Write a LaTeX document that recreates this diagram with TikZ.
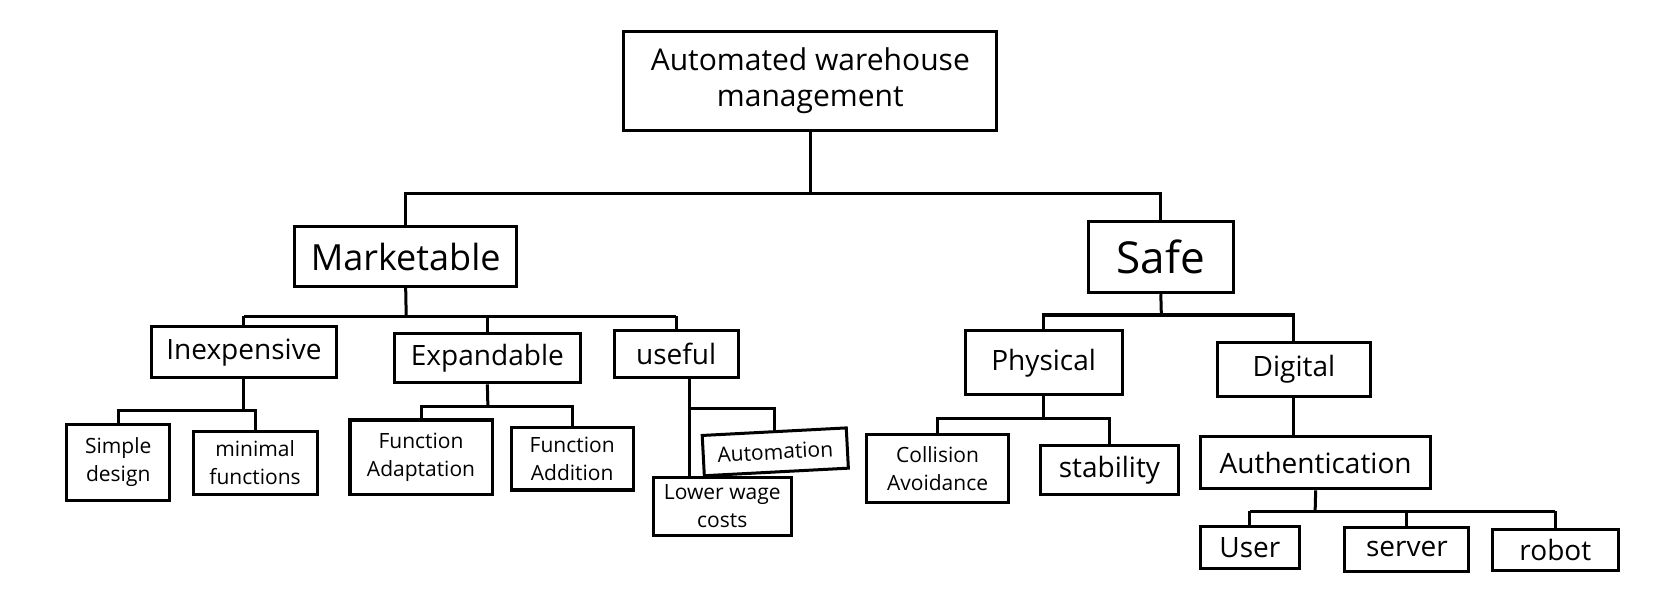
\documentclass[tikz,border=0pt]{standalone}
\usepackage{fontspec}
\setmainfont{Open Sans}

\begin{document}
\begin{tikzpicture}[
    x=0.53pt, y=-0.53pt,
    box/.style={draw, line width=1.5pt, inner sep=0pt, align=center},
    wh/.style 2 args={minimum width=#1*0.53pt, minimum height=#2*0.53pt},
    link/.style={line width=1.5pt},
    big/.style={font=\fontsize{18}{20}\selectfont},
    mid/.style={font=\fontsize{14}{16}\selectfont},
    small/.style={font=\fontsize{10.5}{14}\selectfont}
]
\useasboundingbox (0,0) rectangle (1568,560);

\node[box, wh={352}{93}, font=\fontsize{15}{18}\selectfont] (root) at (764,76.5) {Automated warehouse\\ management};

\node[box, big, wh={209}{56}] (mkt) at (382.5,242) {Marketable};
\node[box, wh={137}{67}, font=\fontsize{22}{24}\selectfont] (safe) at (1094.5,242.5) {Safe};

\node[box, mid, wh={174}{48}] (inexp) at (230,332) {Inexpensive};
\node[box, mid, wh={175}{47}] (expd) at (459.5,337.5) {Expandable};
\node[box, mid, wh={117}{44}] (useful) at (637.5,334) {useful};
\node[box, mid, wh={148}{60}] (phys) at (984,342) {Physical};
\node[box, mid, wh={144}{51}] (dig) at (1220,348.5) {Digital};

\node[box, small, wh={97}{72}] (simple) at (111.5,436) {Simple\\ design};
\node[box, small, wh={117}{59}] (minim) at (240.5,436.5) {minimal\\ functions};
\node[box, small, wh={134}{70}] (fadapt) at (397,431) {Function\\ Adaptation};
\node[box, small, wh={115}{59}] (fadd) at (539.5,432.5) {Function\\ Addition};
\node[box, small, wh={136}{38}, rotate=3] (auto) at (731,426) {Automation};
\node[box, small, wh={130}{55}] (lwc) at (681,477.5) {Lower wage\\ costs};
\node[box, small, wh={134}{64}] (colav) at (884,442) {Collision\\ Avoidance};
\node[box, mid, wh={130}{46}] (stab) at (1046,443) {stability};
\node[box, mid, wh={217}{49}] (auth) at (1240.5,436.5) {Authentication};

\node[box, mid, wh={93}{40}] (user) at (1178.5,516) {User};
\node[box, mid, wh={117}{42}] (server) at (1326.5,518) {server};
\node[box, mid, wh={119}{39}] (robot) at (1466.5,518.5) {robot};

\coordinate (rootbar) at (764,182);
\coordinate (mktbar) at (383,298);
\coordinate (inexpbar) at (230,387);
\coordinate (expdbar) at (460,383);
\coordinate (usebar) at (650,385);
\coordinate (safebar) at (1095,297);
\coordinate (physbar) at (984,395);
\coordinate (authbar) at (1240,482);

\draw[link] (root.south) -- (rootbar);
\draw[link] (mkt.north) |- (rootbar) -| (safe.north);

\draw[link] (mkt.south) -- (mktbar);
\draw[link] (inexp.north |- mktbar) -- (useful.north |- mktbar);
\foreach \n in {inexp,expd,useful}{
   \draw[link] (\n.north) -- (\n.north |- mktbar);
}

\draw[link] (inexp.south) -- (inexpbar);
\draw[link] (simple.north) |- (inexpbar) -| (minim.north);

\draw[link] (expd.south) -- (expdbar);
\draw[link] (fadapt.north) |- (expdbar) -| (fadd.north);

\draw[link] (useful.south -| usebar) -- (lwc.north -| usebar);
\draw[link] (usebar) -| (auto.north);

\draw[link] (safe.south) -- (safebar);
\draw[link] (phys.north) |- (safebar) -| (dig.north);

\draw[link] (phys.south) -- (physbar);
\draw[link] (colav.north) |- (physbar) -| (stab.north);

\draw[link] (dig.south) -- (dig.south |- auth.north);

\draw[link] (auth.south) -- (authbar);
\draw[link] (user.north |- authbar) -- (robot.north |- authbar);
\foreach \n in {user,server,robot}{
   \draw[link] (\n.north) -- (\n.north |- authbar);
}

\end{tikzpicture}
\end{document}
